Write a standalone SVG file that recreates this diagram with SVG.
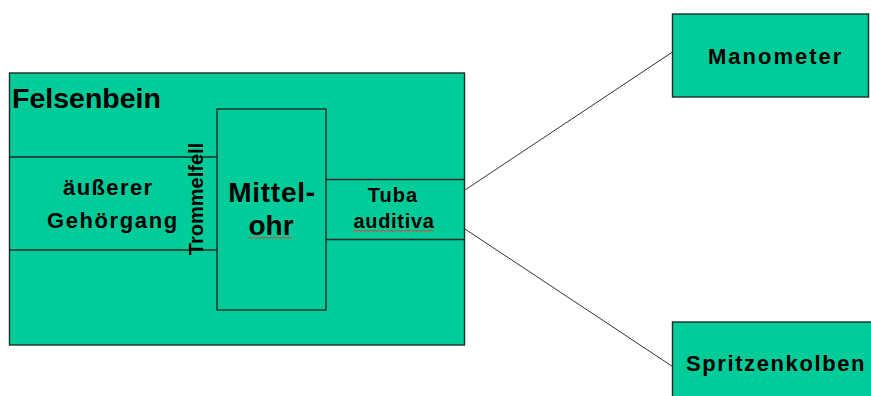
<svg xmlns="http://www.w3.org/2000/svg" width="871" height="396" viewBox="0 0 871 396">
<style>
.box{fill:#00CC99;stroke:#1e2b26;stroke-width:1.4}
.ln{fill:none;stroke:#1e2b26;stroke-width:1.4}
.con{fill:none;stroke:#333;stroke-width:1}
.t{font-family:"Liberation Sans",Arial,sans-serif;font-weight:bold;fill:#000}
.sq{fill:none;stroke:#e0403a;stroke-width:1}
</style>
<rect width="871" height="396" fill="#fff"/>
<g id="connectors">
<line class="con" x1="465" y1="190" x2="672.5" y2="52"/>
<line class="con" x1="465" y1="229" x2="672.5" y2="366.5"/>
</g>
<g id="felsenbein">
<rect class="box" x="9.5" y="73" width="455" height="272"/>
<text class="t" x="12" y="107.5" font-size="28.5">Felsenbein</text>
</g>
<g id="gehoergang">
<line class="ln" x1="9.5" y1="157" x2="217" y2="157"/>
<line class="ln" x1="9.5" y1="250" x2="217" y2="250"/>
<text class="t" x="63" y="194.5" font-size="22" letter-spacing="1.4">äußerer</text>
<text class="t" x="47" y="228" font-size="22" letter-spacing="1.6">Gehörgang</text>
</g>
<g id="trommelfell">
<text class="t" font-size="20" text-anchor="middle" transform="translate(203,199) rotate(-90)">Trommelfell</text>
</g>
<g id="mittelohr">
<rect class="box" x="217" y="109" width="109" height="201"/>
<text class="t" x="272" y="201.5" font-size="28" text-anchor="middle" letter-spacing="0.7">Mittel-</text>
<text class="t" x="271" y="235" font-size="28" text-anchor="middle">ohr</text>
<path class="sq" d="M248 238.5 l2 -1.5 l2 1.5 l2 -1.5 l2 1.5 l2 -1.5 l2 1.5 l2 -1.5 l2 1.5 l2 -1.5 l2 1.5 l2 -1.5 l2 1.5 l2 -1.5 l2 1.5 l2 -1.5 l2 1.5 l2 -1.5 l2 1.5 l2 -1.5 l2 1.5 l2 -1.5 l2 1.5"/>
</g>
<g id="tuba">
<line class="ln" x1="326" y1="179.5" x2="464.5" y2="179.5"/>
<line class="ln" x1="326" y1="239.5" x2="464.5" y2="239.5"/>
<text class="t" x="393" y="201.5" font-size="20" text-anchor="middle" letter-spacing="1">Tuba</text>
<text class="t" x="394" y="228" font-size="20" text-anchor="middle" letter-spacing="0.7">auditiva</text>
<path class="sq" d="M353 231.5 l2 -1.5 l2 1.5 l2 -1.5 l2 1.5 l2 -1.5 l2 1.5 l2 -1.5 l2 1.5 l2 -1.5 l2 1.5 l2 -1.5 l2 1.5 l2 -1.5 l2 1.5 l2 -1.5 l2 1.5 l2 -1.5 l2 1.5 l2 -1.5 l2 1.5 l2 -1.5 l2 1.5 l2 -1.5 l2 1.5 l2 -1.5 l2 1.5 l2 -1.5 l2 1.5 l2 -1.5 l2 1.5 l2 -1.5 l2 1.5 l2 -1.5 l2 1.5 l2 -1.5 l2 1.5 l2 -1.5 l2 1.5 l2 -1.5 l2 1.5"/>
</g>
<g id="manometer">
<rect class="box" x="672.5" y="14" width="196" height="83"/>
<text class="t" x="708" y="63.5" font-size="22" letter-spacing="2">Manometer</text>
</g>
<g id="spritzenkolben">
<rect class="box" x="672.5" y="322" width="205" height="90"/>
<text class="t" x="686" y="371" font-size="22" letter-spacing="1.6">Spritzenkolben</text>
</g>
</svg>
